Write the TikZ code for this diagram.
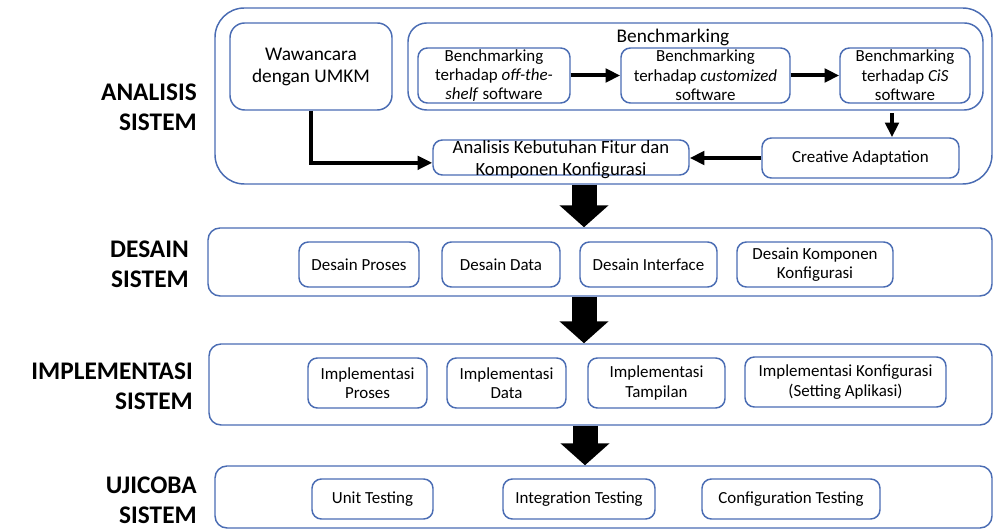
\documentclass[tikz,border=0pt]{standalone}
\usepackage{fontspec}
\setmainfont{Carlito}
\usetikzlibrary{arrows.meta,fit}
\definecolor{bord}{HTML}{4A6CB3}
\begin{document}
\begin{tikzpicture}[x=0.75pt,y=-0.75pt,
 stage/.style={draw=bord, line width=1.1pt, rounded corners=9pt, inner sep=0pt},
 box/.style={draw=bord, line width=1.1pt, rounded corners=7pt, inner sep=0pt, align=center, font=\fontsize{12.7}{14.5}\selectfont},
 lbl/.style={align=right, anchor=east, inner sep=0pt, font=\fontsize{19}{22.5}\selectfont\bfseries},
 conn/.style={line width=3pt, -{Triangle[length=11pt,width=10pt]}},
 bigarrow/.style={line width=18.75pt, -{Triangle[length=16.5pt,width=36pt]}}
]
\useasboundingbox (0,0) rectangle (993,530);

% ---------- ANALISIS ----------
\node[stage, rounded corners=22pt, fit={(215,8) (992,184)}] (ana) {};
\node[lbl] (lana) at (197,107) {ANALISIS\\SISTEM};
\node[box, rounded corners=11pt, font=\fontsize{14.5}{16.5}\selectfont, minimum width=121.5pt, minimum height=65.25pt] (waw) at (311,66.5) {Wawancara\\dengan UMKM};
\node[stage, rounded corners=14pt, fit={(408,23) (983,110)}] (bench) {};
\node[font=\fontsize{14.5}{16}\selectfont, inner sep=0pt] (benchlbl) at (673,37) {Benchmarking};
\node[box, minimum width=114pt, minimum height=41.25pt] (b1) at (494,75.5) {Benchmarking\\terhadap \textit{off-the-}\\\textit{shelf} software};
\node[box, minimum width=126.75pt, minimum height=41.25pt] (b2) at (705.5,75.5) {Benchmarking\\terhadap \textit{customized}\\software};
\node[box, minimum width=97.5pt, minimum height=41.25pt] (b3) at (905,75.5) {Benchmarking\\terhadap \textit{CiS}\\software};
\node[box, minimum width=147.75pt, minimum height=30pt] (ca) at (860.5,158) {Creative Adaptation};
\node[box, minimum width=192pt, minimum height=26.25pt] (anb) at (561,157.5) {\raisebox{-4.5pt}[0pt][0pt]{\makebox[0pt][c]{\parbox{250pt}{\centering\fontsize{14}{16.5}\selectfont Analisis Kebutuhan Fitur dan\\Komponen Konfigurasi}}}};

\coordinate (c3) at (892,0);
\draw[conn] (b1.east) -- (b2.west);
\draw[conn] (b2.east) -- (b3.west);
\draw[conn, shorten <=7pt] (c3 |- b3.south) -- (c3 |- ca.north);
\draw[conn] (ca.west) -- (anb.east |- ca.west);
\draw[conn] (waw.south) |- ([yshift=-4pt]anb.west);

% ---------- DESAIN ----------
\node[stage, fit={(208,228) (992,296)}] (des) {};
\node[lbl] (ldes) at (189,264) {DESAIN\\SISTEM};
\node[box, minimum width=90pt, minimum height=33.75pt] (d1) at (359,264.5) {Desain Proses};
\node[box, minimum width=88.5pt, minimum height=33.75pt] (d2) at (501,264.5) {Desain Data};
\node[box, minimum width=102.75pt, minimum height=33.75pt] (d3) at (648.5,264.5) {Desain Interface};
\node[box, minimum width=117pt, minimum height=33.75pt] (d4) at (815,264.5) {Desain Komponen\\Konfigurasi};

% ---------- IMPLEMENTASI ----------
\node[stage, fit={(209,344) (992,425)}] (imp) {};
\node[lbl] (limp) at (193,386) {IMPLEMENTASI\\SISTEM};
\node[box, minimum width=89.25pt, minimum height=37.5pt] (i1) at (367.5,383) {Implementasi\\Proses};
\node[box, minimum width=89.25pt, minimum height=37.5pt] (i2) at (506.5,383) {Implementasi\\Data};
\node[box, minimum width=102.75pt, minimum height=37.5pt] (i3) at (656.5,383) {Implementasi\\Tampilan};
\node[box, minimum width=150.75pt, minimum height=37.5pt] (i4) at (845.5,382) {Implementasi Konfigurasi\\(Setting Aplikasi)};

% ---------- UJICOBA ----------
\node[stage, fit={(215,466) (992,528)}] (uji) {};
\node[lbl] (luji) at (197,500) {UJICOBA\\SISTEM};
\node[box, minimum width=90.75pt, minimum height=30pt] (u1) at (372.5,499) {Unit Testing};
\node[box, minimum width=114pt, minimum height=30pt] (u2) at (579,499) {Integration Testing};
\node[box, minimum width=133.5pt, minimum height=30pt] (u3) at (791,499) {Configuration Testing};

% ---------- big arrows ----------
\coordinate (ax) at (584,0);
\coordinate (bx) at (585,0);
\draw[bigarrow] (ax |- ana.south) -- (ax |- des.north);
\draw[bigarrow] (ax |- des.south) -- (ax |- imp.north);
\draw[bigarrow] (bx |- imp.south) -- (bx |- uji.north);
\end{tikzpicture}
\end{document}
